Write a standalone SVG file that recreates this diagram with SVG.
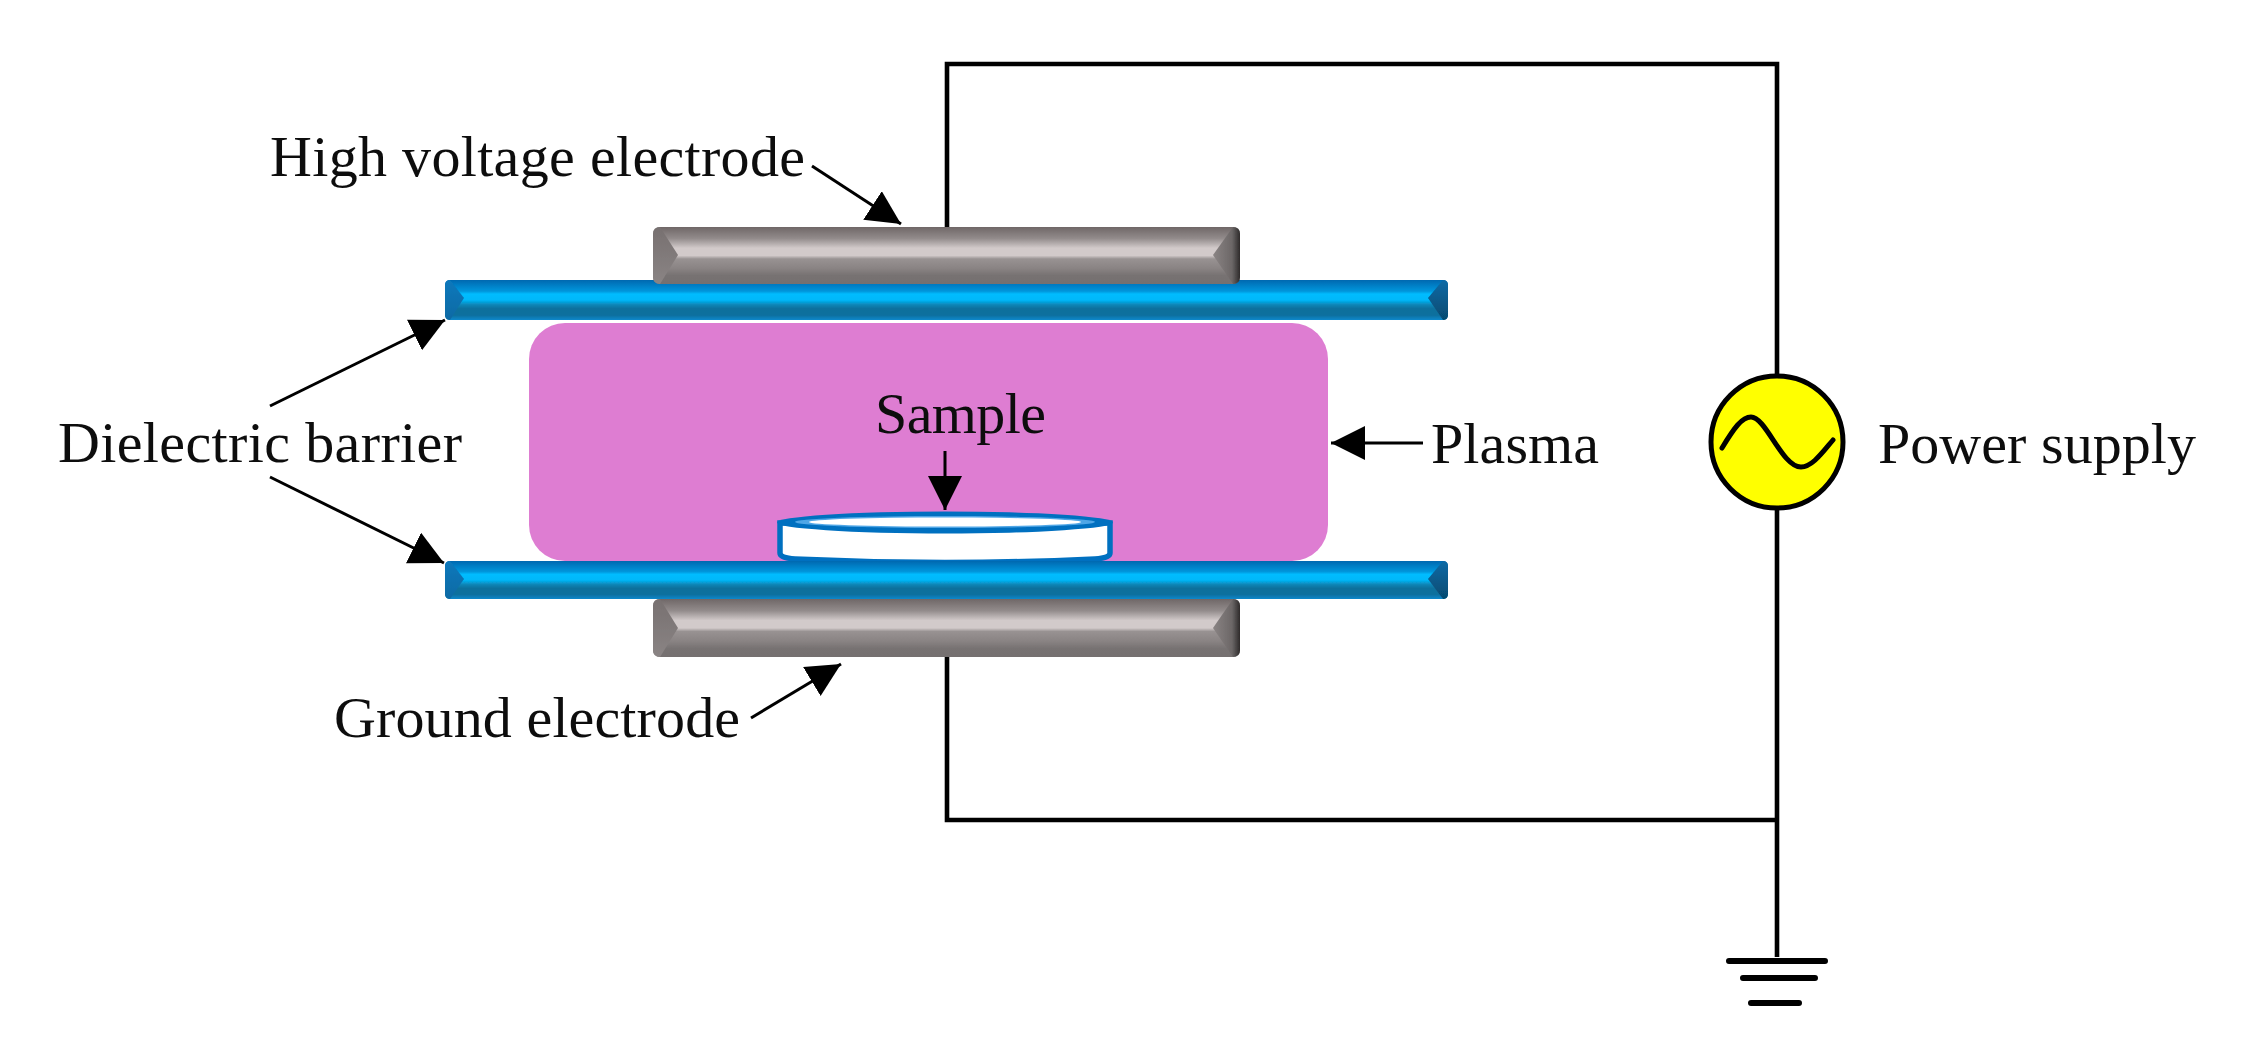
<svg xmlns="http://www.w3.org/2000/svg" width="2265" height="1053" viewBox="0 0 2265 1053">
<style>
text{font-family:"Liberation Serif","Times New Roman",serif;font-size:58px;fill:#111}
.w{fill:none;stroke:#000;stroke-width:4.6}
.a{fill:none;stroke:#000;stroke-width:3;marker-end:url(#ah)}
.g{fill:none;stroke:#000;stroke-width:6;stroke-linecap:round}
</style>
<defs>
<filter id="soft" filterUnits="userSpaceOnUse" x="0" y="0" width="2265" height="1053"><feGaussianBlur stdDeviation="0.6"/></filter>
<marker id="ah" markerUnits="userSpaceOnUse" markerWidth="40" markerHeight="40" refX="34" refY="17" orient="auto"><path d="M0 0L34 17L0 34z" fill="#000"/></marker>
<linearGradient id="blue" x1="0" y1="0" x2="0" y2="1">
<stop offset="0" stop-color="#0068b0"/><stop offset=".28" stop-color="#0096dc"/><stop offset=".35" stop-color="#00bcff"/><stop offset=".5" stop-color="#00b8fa"/><stop offset=".62" stop-color="#0c85b6"/><stop offset=".72" stop-color="#0d6f9c"/><stop offset=".88" stop-color="#0a6f9e"/><stop offset="1" stop-color="#0888cc"/>
</linearGradient>
<linearGradient id="gray" x1="0" y1="0" x2="0" y2="1">
<stop offset="0" stop-color="#6f6767"/><stop offset=".2" stop-color="#928b8b"/><stop offset=".37" stop-color="#d2caca"/><stop offset=".5" stop-color="#d2caca"/><stop offset=".56" stop-color="#989292"/><stop offset=".72" stop-color="#8a8484"/><stop offset=".85" stop-color="#777272"/><stop offset="1" stop-color="#757070"/>
</linearGradient>
<linearGradient id="bl" x1="0" y1="0" x2="0" y2="1"><stop offset="0" stop-color="#0a78bc"/><stop offset="1" stop-color="#0a6aa4"/></linearGradient>
<linearGradient id="br" x1="0" y1="0" x2="0" y2="1"><stop offset="0" stop-color="#0a6aa6"/><stop offset="1" stop-color="#064a70"/></linearGradient>
<linearGradient id="gl" x1="0" y1="0" x2="0" y2="1"><stop offset="0" stop-color="#777070"/><stop offset="1" stop-color="#8a8484"/></linearGradient>
<linearGradient id="gr" x1="0" y1="0" x2="1" y2="0"><stop offset="0" stop-color="#8a8484"/><stop offset=".7" stop-color="#6c6767"/><stop offset="1" stop-color="#2e2b2b"/></linearGradient>
</defs>
<rect width="2265" height="1053" fill="#fff"/>
<g filter="url(#soft)">
<g id="plasma"><rect x="529" y="323" width="799" height="238" rx="36" fill="#de7dd2"/></g>
<g id="connectors">
<path class="w" d="M947 227V64H1777V375M1777 510V957M947 657V820H1777"/>
<path class="a" d="M812 166L901 224"/>
<path class="a" d="M270 406L445 320"/>
<path class="a" d="M270 477L444 563"/>
<path class="a" d="M945 451V510"/>
<path class="a" d="M1423 443H1331"/>
<path class="a" d="M751 718L841 664"/>
</g>
<g id="sample">
<path d="M780 523V553Q780 558 795 559Q945 566 1095 559Q1110 558 1110 553V523z" fill="#fff" stroke="#0070c0" stroke-width="5.5"/>
<ellipse cx="945" cy="522.500" rx="168" ry="11" fill="#0070c0"/>
<ellipse cx="945" cy="522" rx="150" ry="6" fill="#4fa6e6"/>
<ellipse cx="945" cy="522" rx="136" ry="4.500" fill="#fff"/>
<text x="875" y="433" textLength="171">Sample</text>
</g>
<g id="barrier-top">
<rect x="445" y="280" width="1003" height="40" rx="5" fill="url(#blue)"/>
<path d="M445 285Q445 280 450 280L464 298L450 320Q445 320 445 315z" fill="url(#bl)"/>
<path d="M1448 285Q1448 280 1443 280L1428 298L1443 320Q1448 320 1448 315z" fill="url(#br)"/>
</g>
<g id="barrier-bottom">
<rect x="445" y="561" width="1003" height="38" rx="5" fill="url(#blue)"/>
<path d="M445 566Q445 561 450 561L464 579L450 599Q445 599 445 594z" fill="url(#bl)"/>
<path d="M1448 566Q1448 561 1443 561L1428 579L1443 599Q1448 599 1448 594z" fill="url(#br)"/>
</g>
<g id="electrode-top">
<rect x="653" y="227" width="587" height="57" rx="7" fill="url(#gray)"/>
<path d="M653 234Q653 227 660 227L678 255L660 284Q653 284 653 277z" fill="url(#gl)"/>
<path d="M1240 234Q1240 227 1233 227L1213 255L1233 284Q1240 284 1240 277z" fill="url(#gr)"/>
</g>
<g id="electrode-bottom">
<rect x="653" y="599" width="587" height="58" rx="7" fill="url(#gray)"/>
<path d="M653 606Q653 599 660 599L678 628L660 657Q653 657 653 650z" fill="url(#gl)"/>
<path d="M1240 606Q1240 599 1233 599L1213 628L1233 657Q1240 657 1240 650z" fill="url(#gr)"/>
</g>
<g id="power-supply">
<circle cx="1777" cy="442" r="66" fill="#ff0" stroke="#000" stroke-width="5"/>
<path d="M1722 448C1734 428 1742 417 1751 417C1766 417 1782 467 1801 467C1812 467 1822 453 1833 440" fill="none" stroke="#000" stroke-width="5" stroke-linecap="round"/>
<text x="1878" y="463" textLength="318">Power supply</text>
</g>
<g id="ground">
<path class="g" d="M1729 961H1825M1743 978H1815M1751 1003H1799"/>
</g>
<g id="labels">
<text x="270" y="176" textLength="535">High voltage electrode</text>
<text x="58" y="462" textLength="404">Dielectric barrier</text>
<text x="1431" y="463" textLength="168">Plasma</text>
<text x="334" y="737" textLength="406">Ground electrode</text>
</g>
</g>
</svg>
